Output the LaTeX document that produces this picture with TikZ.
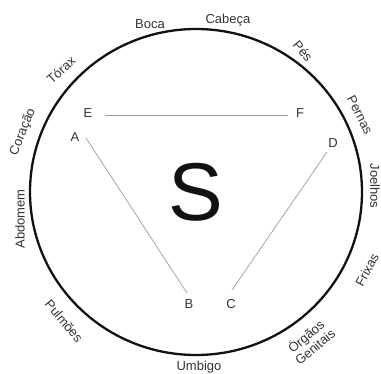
\documentclass[tikz,border=0pt]{standalone}
\usepackage{fontspec}
\setmainfont{Liberation Sans}
\usepackage{xcolor}
\definecolor{ctext}{HTML}{333333}
\definecolor{cline}{HTML}{9A9A9A}
\definecolor{cring}{HTML}{111111}

\tikzset{
  part/.style={text=ctext,font=\fontsize{13}{14}\selectfont,inner sep=0pt,align=center},
  pt/.style={text=ctext,font=\fontsize{13}{14}\selectfont,inner sep=0pt},
  link/.style={draw=cline,line width=0.7pt}
}

\begin{document}
\begin{tikzpicture}[x=1pt,y=-1pt]
  \useasboundingbox (0,0) rectangle (381,373);
  % ring
  \draw[cring,line width=2.3pt] (196,192) ellipse [x radius=166,y radius=163];
  % parts round the ring
  \node[part] (boca) at (150,24) {Boca};
  \node[part] (cabeca) at (228,20) {Cabeça};
  \node[part,rotate=-50] (pes) at (303,51) {Pés};
  \node[part,rotate=-63] (pernas) at (360,115) {Pernas};
  \node[part,rotate=-90] (joelhos) at (375,186) {Joelhos};
  \node[part,rotate=62] (frixas) at (367,270) {Frixas};
  \node[part,rotate=40] (orgaos) at (310,341) {Órgãos\\Genitais};
  \node[part] (umbigo) at (199,367) {Umbigo};
  \node[part,rotate=-50] (pulmoes) at (64,321) {Pulmões};
  \node[part,rotate=90] (abdomem) at (20,219) {Abdomem};
  \node[part,rotate=68] (coracao) at (23,132) {Coração};
  \node[part,rotate=42] (torax) at (61,70) {Tórax};
  % centre
  \node[text=cring,font=\fontsize{82}{82}\selectfont,inner sep=0pt] (s) at (196,192) {S};
  % triangle points
  \node[pt] (e) at (88,113) {E};
  \node[pt] (f) at (300,113) {F};
  \node[pt] (a) at (75,137) {A};
  \node[pt] (d) at (333,143) {D};
  \node[pt] (b) at (189,304) {B};
  \node[pt] (c) at (231,304) {C};
  \coordinate (e1) at (105,115);
  \coordinate (f1) at (288,115);
  \coordinate (a1) at (86,138);
  \coordinate (b1) at (187,293);
  \coordinate (d1) at (327,152);
  \coordinate (c1) at (232,290);
  \draw[link] (e1) -- (f1);
  \draw[link] (a1) -- (b1);
  \draw[link] (d1) -- (c1);
\end{tikzpicture}
\end{document}
